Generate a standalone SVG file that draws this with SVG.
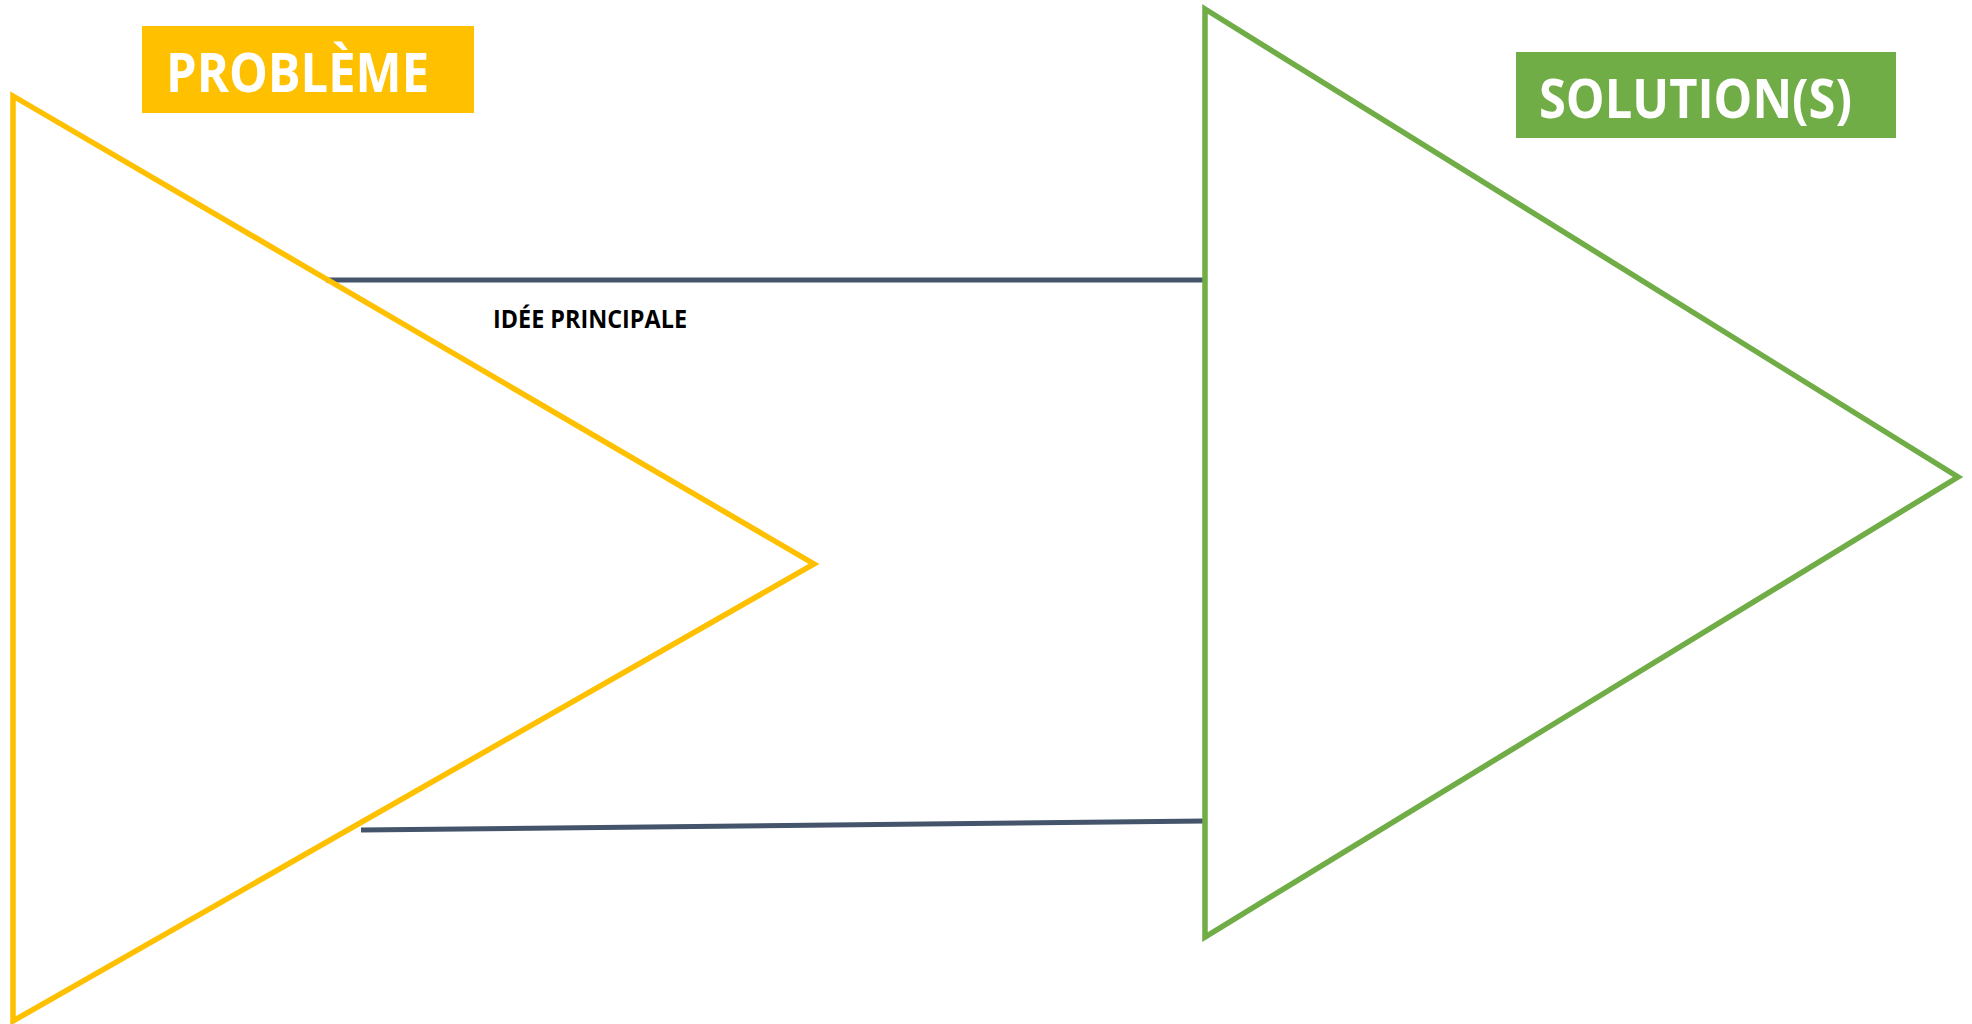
<svg xmlns="http://www.w3.org/2000/svg" width="1972" height="1024" viewBox="0 0 1972 1024">
<style>
.lbl{font-family:"Open Sans","Liberation Sans",sans-serif;font-weight:700;}
.white{fill:#FFFFFF;font-size:53px;}
.conn{stroke:#44546A;stroke-width:5;fill:none;}
.tri{fill:none;stroke-width:5.5;stroke-linejoin:miter;stroke-miterlimit:20;}
</style>
<rect width="1972" height="1024" fill="#FFFFFF"/>
<g id="connectors">
<line class="conn" x1="326" y1="280" x2="1205" y2="280"/>
<line class="conn" x1="361" y1="830" x2="1205" y2="821"/>
</g>
<g id="probleme-triangle">
<polygon class="tri" stroke="#FFC000" points="13,96 814,564 13,1021"/>
</g>
<g id="solutions-triangle">
<polygon class="tri" stroke="#70AD47" points="1205,9 1958,477 1205,937"/>
</g>
<g id="probleme-label">
<rect x="142" y="26" width="332" height="87" fill="#FFC000"/>
<text class="lbl white" x="166" y="92" textLength="263" lengthAdjust="spacingAndGlyphs">PROBLÈME</text>
</g>
<g id="solutions-label">
<rect x="1516" y="52" width="380" height="86" fill="#70AD47"/>
<text class="lbl white" x="1539" y="118" textLength="313" lengthAdjust="spacingAndGlyphs">SOLUTION(S)</text>
</g>
<g id="idee-principale">
<text class="lbl" x="493" y="328" font-size="25" fill="#000000" textLength="194" lengthAdjust="spacingAndGlyphs">IDÉE PRINCIPALE</text>
</g>
</svg>
